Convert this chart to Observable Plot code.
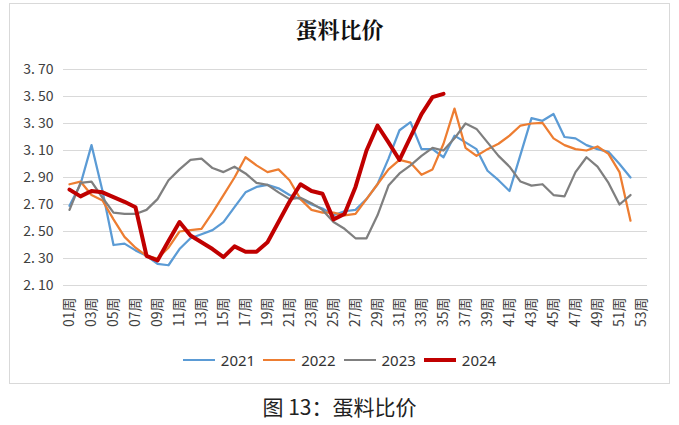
<!DOCTYPE html>
<html>
<head>
<meta charset="utf-8">
<script src="https://cdn.jsdelivr.net/npm/d3@7"></script>
<script src="https://cdn.jsdelivr.net/npm/@observablehq/plot@0.6"></script>
<style>
  html, body { margin: 0; padding: 0; background: #fff; }
  body { width: 679px; height: 425px; position: relative; overflow: hidden; font-family: "Noto Sans CJK SC", "Noto Sans", sans-serif; }
  #frame { position: absolute; left: 9px; top: 3px; width: 661px; height: 381px; border: 1px solid #d9d9d9; box-sizing: border-box; }
  #title { position: absolute; left: 0; width: 679px; top: 13px; text-align: center; font-size: 22px; font-weight: bold; color: #111; font-family: "Noto Serif CJK SC", "Noto Sans CJK SC", serif; }
  #chart { position: absolute; left: 0; top: 0; }
  #legend { position: absolute; left: 0; width: 679px; top: 350px; display: flex; justify-content: center; align-items: center; font-size: 15px; color: #333; font-family: "Noto Sans", "Noto Sans CJK SC", sans-serif; }
  #legend .item { display: flex; align-items: center; margin: 0 4px; }
  #legend .sw { display: inline-block; width: 32px; margin-right: 6px; }
  #caption { position: absolute; left: 0; width: 679px; top: 391px; text-align: center; font-size: 21px; color: #222; }
</style>
</head>
<body>
<div id="frame"></div>
<div id="title">蛋料比价</div>
<div id="chart"></div>
<div id="legend"></div>
<div id="caption">图 13：蛋料比价</div>
<script>
const weeks = ["01周","02周","03周","04周","05周","06周","07周","08周","09周","10周",
  "11周","12周","13周","14周","15周","16周","17周","18周","19周","20周",
  "21周","22周","23周","24周","25周","26周","27周","28周","29周","30周",
  "31周","32周","33周","34周","35周","36周","37周","38周","39周","40周",
  "41周","42周","43周","44周","45周","46周","47周","48周","49周","50周",
  "51周","52周","53周"];
const yTicks = [2.10, 2.30, 2.50, 2.70, 2.90, 3.10, 3.30, 3.50, 3.70];
const years = ["2021", "2022", "2023", "2024"];
const colors = ["#5b9bd5", "#ed7d31", "#7f7f7f", "#c00000"];
const widths = [2.25, 2.25, 2.25, 4];

const v2021 = [2.69,2.85,3.14,2.80,2.40,2.41,2.36,2.32,2.26,2.25,
  2.37,2.45,2.48,2.51,2.57,2.68,2.79,2.83,2.845,2.82,
  2.77,2.74,2.70,2.67,2.62,2.65,2.66,2.74,2.85,3.04,
  3.25,3.31,3.11,3.11,3.05,3.21,3.16,3.11,2.95,2.88,
  2.80,3.07,3.34,3.32,3.37,3.20,3.19,3.14,3.11,3.09,
  3.00,2.90];
const v2022 = [2.85,2.87,2.77,2.73,2.59,2.46,2.38,2.32,2.30,2.38,
  2.50,2.51,2.52,2.64,2.77,2.90,3.05,2.99,2.94,2.96,
  2.88,2.74,2.66,2.64,2.64,2.62,2.63,2.74,2.85,2.96,
  3.03,3.01,2.92,2.96,3.15,3.41,3.12,3.06,3.11,3.15,
  3.21,3.285,3.30,3.305,3.19,3.14,3.11,3.10,3.13,3.075,
  2.94,2.58];
const v2023 = [2.66,2.86,2.87,2.75,2.64,2.63,2.63,2.66,2.74,2.88,
  2.96,3.03,3.04,2.97,2.94,2.98,2.93,2.86,2.845,2.79,
  2.74,2.75,2.71,2.66,2.57,2.52,2.45,2.45,2.62,2.84,
  2.93,2.99,3.06,3.12,3.10,3.19,3.30,3.26,3.16,3.06,
  2.98,2.87,2.84,2.85,2.77,2.76,2.94,3.05,2.98,2.86,
  2.70,2.77];
const v2024 = [2.81,2.76,2.80,2.79,2.755,2.72,2.68,2.32,2.285,2.43,
  2.57,2.47,2.42,2.37,2.31,2.39,2.35,2.35,2.42,2.57,
  2.72,2.85,2.80,2.78,2.59,2.63,2.83,3.10,3.285,3.16,
  3.03,3.20,3.37,3.495,3.52];

const series = [v2021, v2022, v2023, v2024];
const tables = series.map((vals, k) => vals.map((v, i) => ({week: weeks[i], value: v, year: years[k]})));

const chart = Plot.plot({
  width: 679,
  height: 345,
  marginLeft: 63,
  marginRight: 32,
  marginTop: 69,
  marginBottom: 60,
  style: {fontFamily: '"Noto Sans CJK SC", "Noto Sans", sans-serif', background: "transparent", color: "#404040"},
  x: {type: "point", domain: weeks, padding: 0.5, label: null},
  y: {domain: [2.1, 3.7], label: null},
  marks: [
    Plot.gridY(yTicks, {stroke: "#d9d9d9", strokeOpacity: 1, strokeWidth: 1.2}),
    Plot.axisY(yTicks, {tickSize: 0, tickPadding: 10, tickFormat: d => d.toFixed(2).replace(".", ". "), fontSize: 14, label: null}),
    Plot.axisX(weeks.filter((d, i) => i % 2 === 0), {tickSize: 0, tickPadding: 12, tickRotate: -90, fontSize: 14, label: null}),
    ...tables.map((t, k) => Plot.line(t, {x: "week", y: "value", stroke: colors[k], strokeWidth: widths[k], strokeLinejoin: "round"}))
  ]
});
document.getElementById("chart").appendChild(chart);

const legend = document.getElementById("legend");
years.forEach((y, k) => {
  const item = document.createElement("span");
  item.className = "item";
  const sw = document.createElement("span");
  sw.className = "sw";
  sw.style.height = widths[k] + "px";
  sw.style.background = colors[k];
  item.appendChild(sw);
  const t = document.createElement("span");
  t.textContent = y;
  item.appendChild(t);
  legend.appendChild(item);
});
</script>
</body>
</html>
